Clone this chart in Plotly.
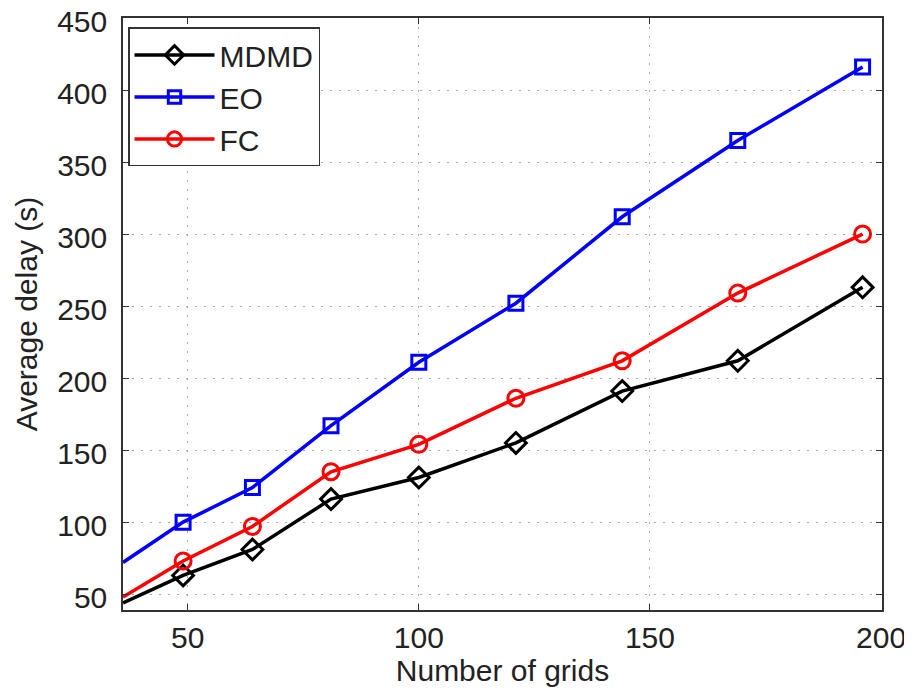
import plotly.graph_objects as go

x_grids = [36, 49, 64, 81, 100, 121, 144, 169, 196]
mdmd = [44, 63, 81, 116, 131, 155, 191, 212, 263]
eo = [72, 100, 124, 167, 211, 252, 312, 365, 416]
fc = [48, 73, 97, 135, 154, 186, 212, 259, 300]

x_ticks = [50, 100, 150, 200]
y_ticks = [50, 100, 150, 200, 250, 300, 350, 400, 450]

FONT = "Liberation Sans, Arial, Helvetica, sans-serif"

series = [
    ("MDMD", mdmd, "#000000", "diamond-open", 16),
    ("EO", eo, "#0000FF", "square-open", 14),
    ("FC", fc, "#FF0000", "circle-open", 16),
]

fig = go.Figure()
for name, vals, color, sym, sz in series:
    sizes = [0] + [sz] * (len(x_grids) - 1)
    fig.add_trace(go.Scatter(
        x=x_grids, y=vals, name=name, mode="lines+markers",
        line=dict(color=color, width=3.5),
        marker=dict(symbol=sym, size=sizes, color=color, opacity=1,
                    line=dict(color=color, width=3)),
        cliponaxis=True,
    ))

axis_common = dict(
    showline=True, linecolor="#333333", linewidth=1.5, mirror="allticks",
    ticks="inside", ticklen=6, tickcolor="#333333", tickwidth=1,
    showgrid=True, gridcolor="#aaaaaa", griddash="2px,7px", gridwidth=1,
    zeroline=False, automargin=False, ticklabeloverflow="allow",
    tickfont=dict(family=FONT, size=30, color="#222222"),
)

fig.update_xaxes(
    range=[36, 200.2], tickvals=x_ticks, ticktext=[str(v) for v in x_ticks],
    title=dict(text="Number of grids", font=dict(family=FONT, size=30, color="#222222"), standoff=0),
    ticklabelstandoff=0,
    **axis_common,
)
fig.update_yaxes(
    range=[39, 450], tickvals=y_ticks, ticktext=[str(v) for v in y_ticks],
    title=dict(text="Average delay (s)", font=dict(family=FONT, size=30, color="#222222"), standoff=11),
    ticklabelstandoff=8, ticklabelshift=3,
    **axis_common,
)

# the page body adds an 8px offset, so margins compensate
fig.update_layout(
    width=912, height=691,
    margin=dict(l=115, r=38, t=10, b=89),
    paper_bgcolor="white", plot_bgcolor="white",
    font=dict(family=FONT, color="#222222"),
    showlegend=True,
    legend=dict(
        x=0.0066, y=0.984, xanchor="left", yanchor="top",
        bgcolor="white", bordercolor="#333333", borderwidth=1.5,
        font=dict(family=FONT, size=30, color="#222222"),
        tracegroupgap=0, itemwidth=80,
    ),
)

fig.write_html("out.html")
